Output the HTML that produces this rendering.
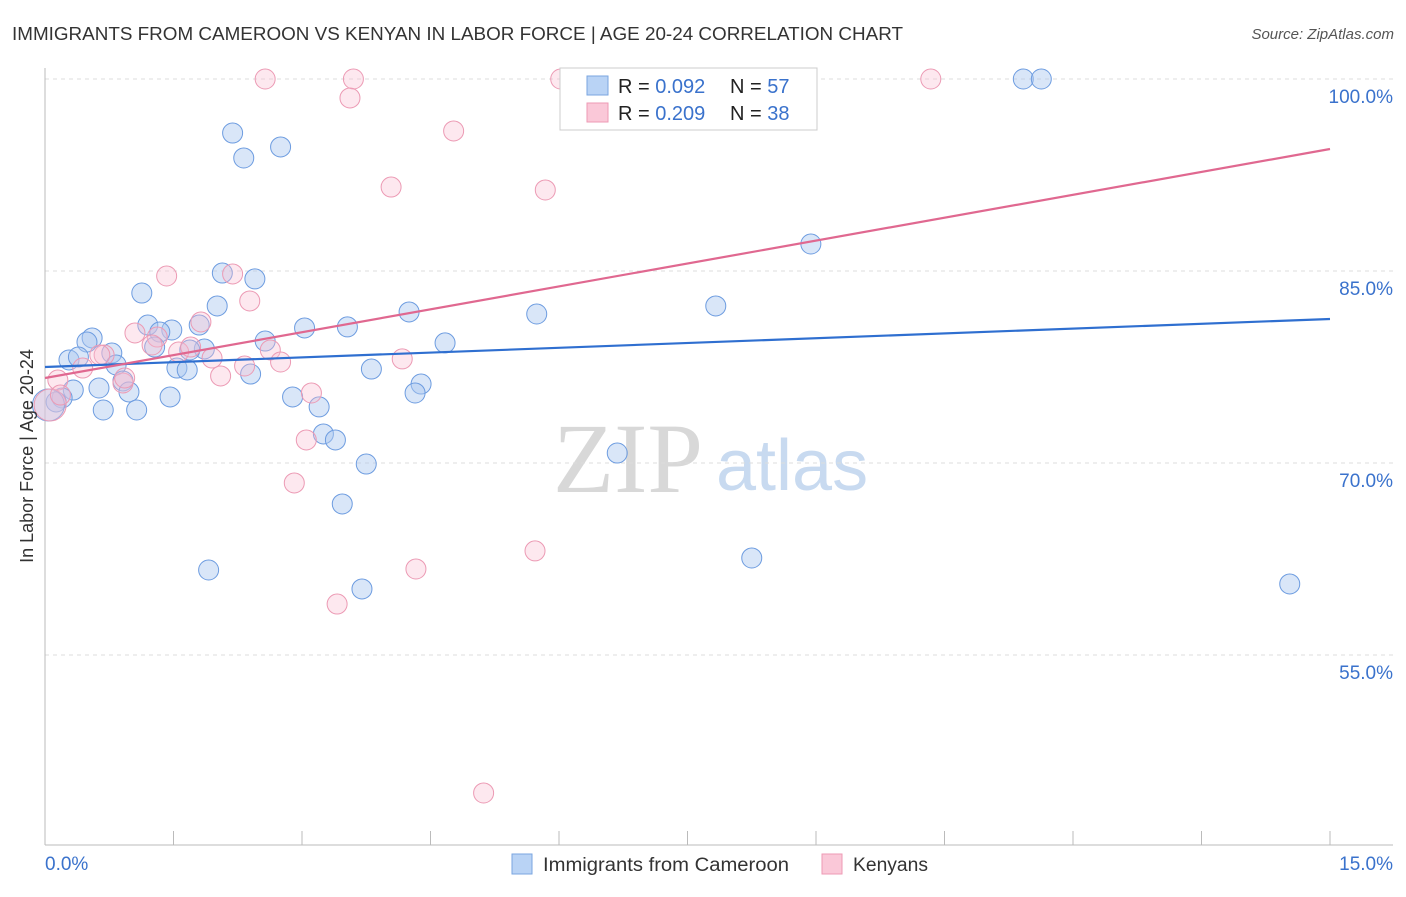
<!DOCTYPE html>
<html><head><meta charset="utf-8"><style>
body{margin:0;background:#fff;font-family:"Liberation Sans",sans-serif}
</style></head><body>
<svg id="chart" width="1406" height="892" xmlns="http://www.w3.org/2000/svg" font-family="Liberation Sans, sans-serif">
<text x="12" y="40" font-size="18" fill="#333" textLength="891" lengthAdjust="spacingAndGlyphs">IMMIGRANTS FROM CAMEROON VS KENYAN IN LABOR FORCE | AGE 20-24 CORRELATION CHART</text>
<text x="1394" y="39" font-size="15" fill="#555" font-style="italic" text-anchor="end">Source: ZipAtlas.com</text>
<g>
<text x="553" y="492" font-size="100" style="font-family:'Liberation Serif',serif" fill="#d8d8d8">ZIP</text>
<text x="716" y="490" font-size="72" fill="#c8daf0">atlas</text>
</g>
<g id="grid"></g>
<g id="axes"></g>
<g id="pts"></g>
<g id="lines"></g>
<text x="33" y="456" font-size="18" fill="#333" text-anchor="middle" transform="rotate(-90 33 456)">In Labor Force | Age 20-24</text>
<g>
<rect x="560" y="68" width="257" height="62" fill="#fff" stroke="#ccc"/>
<rect x="587" y="76" width="21" height="19" fill="#b9d3f5" stroke="#7aa6e0"/>
<rect x="587" y="103" width="21" height="19" fill="#fac8d8" stroke="#ee9ab4"/>
<text x="618" y="93" font-size="20" fill="#222">R = <tspan fill="#3a72cc">0.092</tspan></text>
<text x="730" y="93" font-size="20" fill="#222">N = <tspan fill="#3a72cc">57</tspan></text>
<text x="618" y="120" font-size="20" fill="#222">R = <tspan fill="#3a72cc">0.209</tspan></text>
<text x="730" y="120" font-size="20" fill="#222">N = <tspan fill="#3a72cc">38</tspan></text>
</g>
<g>
<rect x="512" y="854" width="20" height="20" fill="#b9d3f5" stroke="#7aa6e0"/>
<text x="543" y="871" font-size="19" fill="#333" textLength="246" lengthAdjust="spacingAndGlyphs">Immigrants from Cameroon</text>
<rect x="822" y="854" width="20" height="20" fill="#fac8d8" stroke="#ee9ab4"/>
<text x="853" y="871" font-size="19" fill="#333" textLength="75" lengthAdjust="spacingAndGlyphs">Kenyans</text>
</g>
</svg>
<script>
const blueX=[11.42,11.63,2.19,2.32,2.75,8.94,2.07,2.45,1.13,2.01,7.83,4.25,5.74,1.20,1.48,1.34,1.80,3.03,3.53,0.55,0.49,1.28,2.57,4.67,1.86,1.69,0.78,0.28,0.39,0.83,1.54,1.66,2.40,3.81,0.91,0.63,0.33,0.98,4.39,4.32,1.46,2.89,0.20,0.13,0.68,1.07,3.20,3.25,3.39,6.68,3.75,3.47,1.91,8.25,3.70,14.53,0.04];
const blueY=[100,100,95.78,93.83,94.69,87.11,84.84,84.38,83.28,82.27,82.27,81.80,81.64,80.78,80.39,80.23,80.78,80.55,80.63,79.77,79.45,79.06,79.53,79.38,78.91,78.83,78.59,78.05,78.28,77.66,77.42,77.27,76.95,77.34,76.41,75.86,75.70,75.55,76.17,75.47,75.16,75.16,75.08,74.77,74.14,74.14,74.38,72.27,71.80,70.78,69.92,66.80,61.64,62.58,60.16,60.55,74.53];
const pinkX=[2.57,3.60,6.02,10.34,3.56,4.77,4.04,5.84,1.42,2.19,2.39,1.82,1.05,1.31,1.56,1.70,0.69,1.95,2.63,2.75,4.17,2.33,0.44,2.05,0.91,3.11,0.15,3.05,2.91,5.72,4.33,3.41,5.12,0.06,0.18,0.64,1.25,0.93];
const pinkY=[100,100,100,100,98.52,95.94,91.56,91.33,84.61,84.77,82.66,81.02,80.16,79.84,78.67,79.06,78.44,78.20,78.83,77.89,78.13,77.58,77.42,76.80,76.25,75.47,76.48,71.80,68.44,63.13,61.72,58.98,44.22,74.53,75.31,78.44,79.22,76.64];
const blueTrend=[77.5,81.25];
const pinkTrend=[76.64,94.53];
const yTicks=[100,85,70,55];
const xTickLabels=["0.0%","15.0%"];
const NS="http://www.w3.org/2000/svg";
const xs=v=>45+v*1285/15;
const ys=v=>79+(100-v)*12.8;
function mk(t,a,p){const e=document.createElementNS(NS,t);for(const k in a)e.setAttribute(k,a[k]);p.appendChild(e);return e;}
const grid=document.getElementById('grid'),axes=document.getElementById('axes'),pts=document.getElementById('pts'),lines=document.getElementById('lines');
yTicks.forEach(v=>{
 const l=mk('line',{x1:45,x2:1393,y1:ys(v),y2:ys(v),stroke:'#ddd','stroke-dasharray':'4,4'},grid);
 
 
 const t=mk('text',{x:1393,y:ys(v)+24,'font-size':19,fill:'#3a72cc','text-anchor':'end'},axes);
 t.textContent=v.toFixed(1)+'%';
 
 
});
const ax=mk('line',{x1:45,x2:45,y1:68,y2:845,stroke:'#bbb'},axes);


const bx=mk('line',{x1:45,x2:1393,y1:845,y2:845,stroke:'#bbb'},axes);


for(let i=1;i<=10;i++){
 const v=i*1.5;
 const tk=mk('line',{x1:xs(v),x2:xs(v),y1:831,y2:845,stroke:'#bbb'},axes);
 
 
}
[[0,'start',45],[1,'end',1393]].forEach(([i,a,x])=>{
 const t=mk('text',{x:x,y:870,'font-size':19,fill:'#3a72cc','text-anchor':a},axes);
 t.textContent=xTickLabels[i];
 
 
});
function drawPts(X,Y,fill,stroke,name){
 X.forEach((x,i)=>{
  const r=x<0.1?16:10;
  const c=mk('circle',{cx:xs(x),cy:ys(Y[i]),r:r,fill:fill,stroke:stroke,'stroke-width':1},pts);
  
  
 });
}
drawPts(blueX,blueY,'rgba(170,200,240,0.45)','#6d9ce0','point-cameroon');
drawPts(pinkX,pinkY,'rgba(248,190,210,0.35)','#ec9ab4','point-kenyans');
const bl=mk('line',{x1:xs(0),x2:xs(15),y1:ys(blueTrend[0]),y2:ys(blueTrend[1]),stroke:'#2f6fd0','stroke-width':2.2},lines);


const pl=mk('line',{x1:xs(0),x2:xs(15),y1:ys(pinkTrend[0]),y2:ys(pinkTrend[1]),stroke:'#e06890','stroke-width':2.2},lines);


</script>
</body></html>
